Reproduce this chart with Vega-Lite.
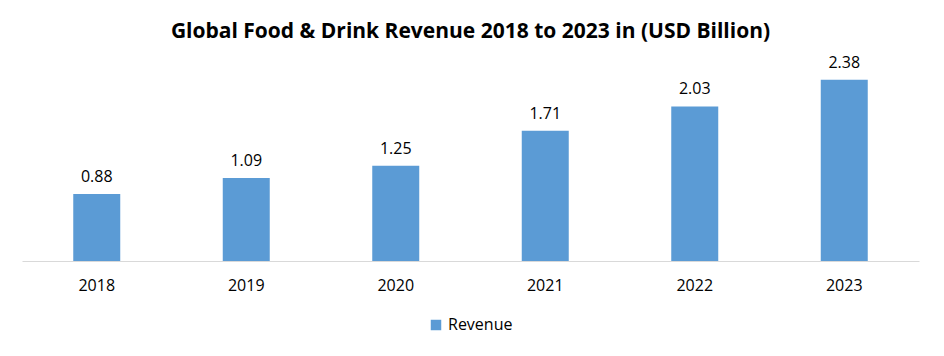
{
  "$schema": "https://vega.github.io/schema/vega-lite/v6.json",
  "autosize": {"type": "none"},
  "width": 897,
  "height": 198,
  "padding": {"left": 22, "top": 63, "right": 25, "bottom": 95},
  "background": "white",
  "title": {
    "text": "Global Food & Drink Revenue 2018 to 2023 in (USD Billion)",
    "font": "Open Sans",
    "fontSize": 21,
    "fontWeight": "bold",
    "color": "#000000",
    "anchor": "middle",
    "offset": 13
  },
  "data": {
    "values": [
      {"year": "2018", "revenue": 0.88, "series": "Revenue"},
      {"year": "2019", "revenue": 1.09, "series": "Revenue"},
      {"year": "2020", "revenue": 1.25, "series": "Revenue"},
      {"year": "2021", "revenue": 1.71, "series": "Revenue"},
      {"year": "2022", "revenue": 2.03, "series": "Revenue"},
      {"year": "2023", "revenue": 2.38, "series": "Revenue"}
    ]
  },
  "encoding": {
    "x": {
      "field": "year",
      "type": "ordinal",
      "scale": {"paddingInner": 0, "paddingOuter": 0},
      "axis": {
        "title": null,
        "labelAngle": 0,
        "labelFont": "Open Sans",
        "labelFontSize": 16,
        "labelColor": "#000000",
        "labelPadding": 16,
        "ticks": false,
        "domainColor": "#d9d9d9",
        "domainWidth": 1
      }
    },
    "y": {
      "field": "revenue",
      "type": "quantitative",
      "scale": {"domain": [0, 2.6], "nice": false},
      "axis": null
    }
  },
  "layer": [
    {
      "mark": {"type": "bar", "width": 47},
      "encoding": {
        "color": {
          "field": "series",
          "type": "nominal",
          "scale": {"range": ["#5B9BD5"]},
          "legend": {
            "title": null,
            "orient": "bottom",
            "direction": "horizontal",
            "symbolType": "square",
            "symbolSize": 110,
            "symbolStrokeWidth": 0,
            "labelFont": "Open Sans",
            "labelFontSize": 16,
            "labelColor": "#000000",
            "offset": 24
          }
        }
      }
    },
    {
      "mark": {
        "type": "text",
        "baseline": "bottom",
        "dy": -9,
        "font": "Open Sans",
        "fontSize": 16,
        "color": "#000000"
      },
      "encoding": {
        "text": {"field": "revenue", "type": "quantitative", "format": ".2f"}
      }
    }
  ],
  "config": {
    "view": {"stroke": null},
    "legend": {"layout": {"bottom": {"anchor": "middle"}}}
  }
}
